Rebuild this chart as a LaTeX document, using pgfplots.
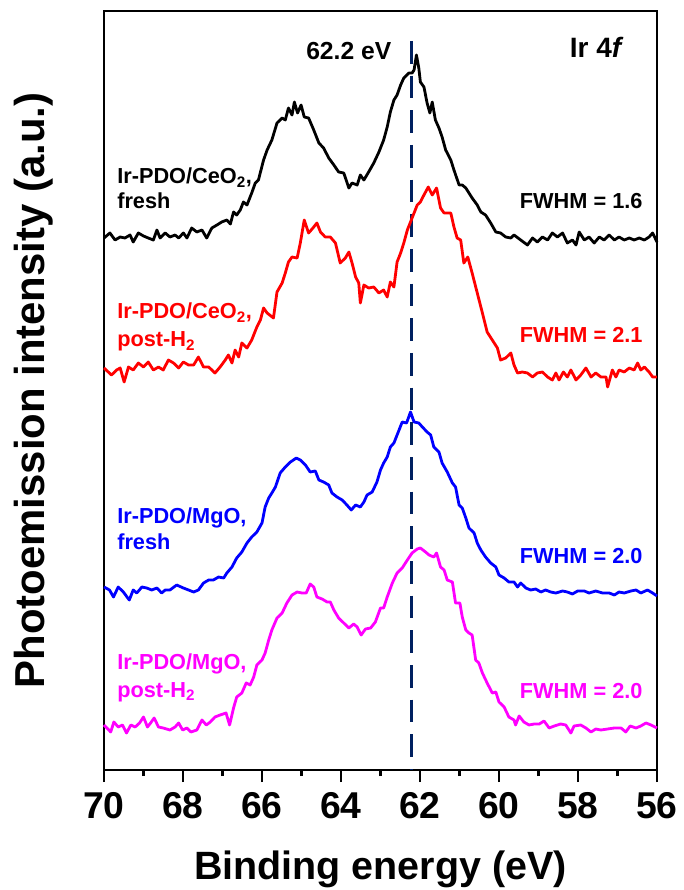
\documentclass[border=0pt]{standalone}
\usepackage{fontspec}
\setmainfont{Liberation Sans}
\usepackage{pgfplots}
\usepackage{pgfplotstable}
\pgfplotsset{compat=1.18}
\definecolor{navy}{RGB}{0,32,96}
\definecolor{mag}{RGB}{255,0,255}
\definecolor{myblue}{RGB}{0,0,255}
\definecolor{myred}{RGB}{255,0,0}

\pgfplotstableread{
x y
70.00 532
69.85 537
69.72 530
69.59 533
69.47 532
69.34 535
69.26 528
69.13 537
69.00 534
68.88 532
68.75 530
68.66 540
68.58 532
68.45 537
68.33 533
68.20 535
68.11 532
67.99 537
67.90 532
67.78 542
67.65 538
67.52 540
67.40 532
67.27 542
67.14 545
67.02 548
66.89 550
66.80 546
66.72 558
66.64 555
66.55 560
66.47 568
66.38 565
66.26 577
66.17 587
66.09 590
65.96 610
65.87 620
65.75 630
65.62 647
65.49 652
65.41 650
65.33 662
65.24 655
65.18 668
65.10 657
65.01 665
64.93 653
64.82 652
64.69 640
64.56 627
64.44 622
64.31 612
64.18 605
64.06 598
63.93 597
63.80 582
63.72 587
63.59 585
63.51 595
63.42 590
63.30 598
63.17 607
63.04 618
62.92 630
62.83 643
62.75 658
62.66 670
62.58 675
62.49 685
62.41 692
62.28 697
62.20 697
62.15 700
62.09 715
62.03 702
61.99 688
61.90 683
61.82 667
61.75 657
61.69 668
61.61 650
61.52 642
61.44 633
61.35 620
61.22 610
61.14 600
61.01 585
60.93 585
60.84 582
60.76 577
60.68 572
60.55 565
60.46 558
60.34 555
60.21 547
60.08 538
59.96 537
59.83 533
59.70 532
59.62 535
59.45 530
59.28 525
59.15 532
59.03 528
58.90 533
58.77 530
58.65 537
58.52 533
58.39 537
58.27 527
58.14 530
58.05 525
57.97 538
57.84 530
57.72 533
57.59 527
57.46 533
57.34 530
57.21 535
57.08 530
56.96 533
56.83 530
56.70 532
56.58 530
56.45 532
56.32 530
56.20 533
56.11 537
56.00 528
}\blackdata

\pgfplotstableread{
x y
70.00 402
69.81 395
69.68 400
69.59 402
69.49 388
69.38 403
69.26 400
69.13 407
69.00 403
68.88 408
68.75 400
68.62 403
68.50 400
68.37 410
68.24 407
68.11 402
67.99 408
67.86 405
67.73 405
67.61 413
67.48 403
67.35 403
67.19 397
67.06 403
66.93 410
66.85 415
66.76 407
66.68 420
66.59 413
66.51 427
66.38 422
66.26 430
66.13 443
66.04 450
65.96 462
65.87 457
65.71 452
65.62 478
65.49 487
65.41 497
65.33 508
65.24 513
65.11 512
65.03 527
64.93 550
64.82 537
64.71 542
64.61 547
64.52 538
64.40 533
64.27 533
64.14 527
64.02 507
63.89 512
63.80 518
63.72 507
63.63 493
63.55 487
63.51 467
63.42 485
63.30 482
63.17 483
63.04 477
62.92 480
62.83 473
62.75 488
62.66 483
62.58 508
62.49 517
62.41 527
62.32 540
62.24 548
62.15 557
62.07 565
61.99 568
61.90 575
61.79 583
61.69 575
61.58 582
61.48 562
61.39 557
61.22 557
61.14 543
61.06 532
60.97 530
60.89 507
60.79 513
60.68 497
60.55 477
60.42 457
60.30 438
60.17 430
60.04 422
59.96 410
59.83 412
59.70 417
59.62 405
59.53 397
59.41 398
59.28 397
59.15 393
59.03 397
58.90 398
58.77 393
58.65 390
58.56 397
58.48 390
58.37 398
58.27 393
58.18 400
58.05 390
57.93 395
57.80 402
57.67 393
57.55 397
57.42 393
57.29 393
57.25 383
57.13 400
57.04 393
56.96 400
56.83 398
56.70 402
56.58 400
56.49 407
56.41 400
56.32 403
56.20 398
56.11 393
56.00 393
}\reddata

\pgfplotstableread{
x y
70.00 183
69.86 180
69.76 173
69.64 183
69.51 178
69.36 170
69.26 180
69.17 177
69.04 183
68.92 182
68.79 180
68.66 182
68.54 177
68.45 180
68.33 180
68.16 185
67.99 182
67.86 180
67.73 178
67.61 180
67.48 187
67.35 190
67.23 190
67.10 193
66.97 192
66.89 197
66.76 203
66.64 212
66.51 218
66.38 227
66.26 233
66.13 238
66.00 247
65.92 263
65.83 272
65.75 277
65.66 283
65.54 297
65.41 303
65.28 308
65.13 312
65.03 310
64.90 305
64.78 298
64.65 299
64.56 290
64.44 288
64.31 285
64.23 277
64.10 273
63.97 270
63.85 265
63.74 260
63.63 265
63.51 263
63.42 268
63.34 275
63.21 278
63.09 288
63.00 300
62.92 307
62.83 313
62.75 323
62.66 327
62.58 335
62.45 348
62.34 347
62.24 358
62.15 348
62.03 347
61.94 343
61.82 338
61.73 335
61.65 323
61.52 318
61.44 307
61.31 298
61.18 287
61.10 283
61.01 265
60.93 262
60.84 252
60.76 242
60.63 237
60.55 227
60.46 220
60.34 213
60.21 207
60.08 203
60.00 195
59.87 192
59.75 188
59.62 188
59.53 183
59.45 187
59.32 182
59.20 180
59.07 181
58.94 178
58.82 180
58.69 178
58.56 177
58.39 179
58.27 178
58.14 176
58.01 179
57.84 179
57.72 177
57.55 179
57.38 177
57.21 177
57.08 175
56.96 178
56.83 177
56.66 179
56.53 180
56.41 177
56.24 180
56.11 177
56.00 174
}\bluedata

\pgfplotstableread{
x y
70.00 45
69.83 38
69.75 48
69.64 43
69.53 45
69.43 37
69.32 45
69.21 43
69.10 47
69.00 53
68.90 43
68.82 47
68.73 52
68.62 43
68.50 42
68.33 40
68.20 43
68.11 47
68.01 40
67.90 42
67.80 38
67.65 40
67.52 50
67.41 45
67.31 48
67.19 53
67.06 55
66.91 57
66.82 45
66.72 62
66.64 73
66.51 77
66.40 87
66.30 85
66.21 93
66.13 105
66.00 110
65.92 117
65.83 130
65.75 140
65.62 152
65.49 157
65.37 167
65.24 175
65.11 178
64.99 177
64.88 177
64.78 186
64.69 183
64.61 173
64.48 171
64.35 168
64.27 168
64.18 160
64.06 152
63.93 147
63.80 142
63.68 146
63.59 143
63.49 135
63.38 141
63.25 142
63.13 148
63.00 162
62.92 162
62.83 173
62.70 187
62.58 197
62.45 202
62.32 210
62.20 217
62.07 221
61.99 222
61.86 218
61.77 215
61.65 213
61.58 217
61.48 203
61.39 200
61.31 190
61.18 188
61.10 167
60.99 167
60.93 153
60.84 140
60.76 137
60.68 135
60.59 110
60.51 107
60.42 97
60.30 87
60.17 77
60.08 78
60.00 68
59.87 63
59.75 53
59.62 50
59.58 45
59.49 54
59.37 48
59.24 45
59.11 46
58.98 46
58.86 49
58.73 42
58.60 44
58.44 46
58.31 45
58.18 37
58.10 44
57.93 45
57.80 42
57.67 38
57.55 41
57.42 40
57.25 41
57.08 42
56.91 42
56.79 38
56.68 44
56.53 42
56.41 44
56.28 47
56.15 45
56.00 42
}\magdata

\begin{document}
\begin{tikzpicture}
\useasboundingbox (-78pt,-90pt) rectangle (435pt,577.5pt);
\begin{axis}[
  at={(0,0)}, anchor=south west,
  scale only axis, width=414.75pt, height=569.25pt,
  xmin=56, xmax=70, x dir=reverse, ymin=0, ymax=759,
  xtick={56,58,...,70}, minor xtick={57,59,...,69},
  ytick=\empty, xtick pos=left,
  xtick align=outside,
  major tick length=9pt, minor tick length=4.5pt,
  axis line style={line width=2.2pt},
  major tick style={line width=2.2pt, black},
  minor tick style={line width=2.2pt, black},
  /pgf/number format/assume math mode=true,
  xticklabel style={font=\fontsize{28}{28}\selectfont\bfseries, yshift=-4pt},
  xlabel={Binding energy (eV)},
  ylabel={Photoemission intensity (a.u.)},
  xlabel style={font=\fontsize{29.6}{30}\selectfont\bfseries, at={(axis description cs:0.5,-0.1449)}, anchor=base},
  ylabel style={font=\fontsize{31.4}{32}\selectfont\bfseries, at={(axis description cs:-0.1076,0.5)}, anchor=base},
  clip=false,
]
\addplot[navy, line width=2.2pt, dash pattern=on 17pt off 9pt] coordinates {(62.22,729) (62.22,0)};
\addplot[black, line width=2.1pt, line join=round] table[x=x,y=y] {\blackdata};
\addplot[myred, line width=2.1pt, line join=round] table[x=x,y=y] {\reddata};
\addplot[myblue, line width=2.1pt, line join=round] table[x=x,y=y] {\bluedata};
\addplot[mag, line width=2.1pt, line join=round] table[x=x,y=y] {\magdata};

\begin{scope}[every node/.append style={inner sep=0pt}]
\node[anchor=base east, font=\fontsize{18.5}{19}\selectfont\bfseries] at (axis cs:62.72,710) {62.2 eV};
\node[anchor=base east, font=\fontsize{21}{22}\selectfont\bfseries] at (axis cs:56.84,712) {Ir 4\textit{f}};
\end{scope}

\begin{scope}[every node/.append style={inner sep=0pt, font=\fontsize{16.3}{17}\selectfont\bfseries}]
\node[anchor=base west, text=black] at (axis cs:69.67,586) {Ir-PDO/CeO\textsubscript{2},};
\node[anchor=base west, text=black] at (axis cs:69.67,561) {fresh};
\node[anchor=base west, text=myred] at (axis cs:69.67,451) {Ir-PDO/CeO\textsubscript{2},};
\node[anchor=base west, text=myred] at (axis cs:69.67,423) {post-H\textsubscript{2}};
\node[anchor=base west, text=myblue] at (axis cs:69.67,247) {Ir-PDO/MgO,};
\node[anchor=base west, text=myblue] at (axis cs:69.67,221) {fresh};
\node[anchor=base west, text=mag] at (axis cs:69.67,101) {Ir-PDO/MgO,};
\node[anchor=base west, text=mag] at (axis cs:69.67,73) {post-H\textsubscript{2}};
\node[anchor=base east, text=black] at (axis cs:56.36,561) {FWHM = 1.6};
\node[anchor=base east, text=myred] at (axis cs:56.36,427) {FWHM = 2.1};
\node[anchor=base east, text=myblue] at (axis cs:56.36,207) {FWHM = 2.0};
\node[anchor=base east, text=mag] at (axis cs:56.36,72) {FWHM = 2.0};
\end{scope}
\end{axis}
\end{tikzpicture}
\end{document}
